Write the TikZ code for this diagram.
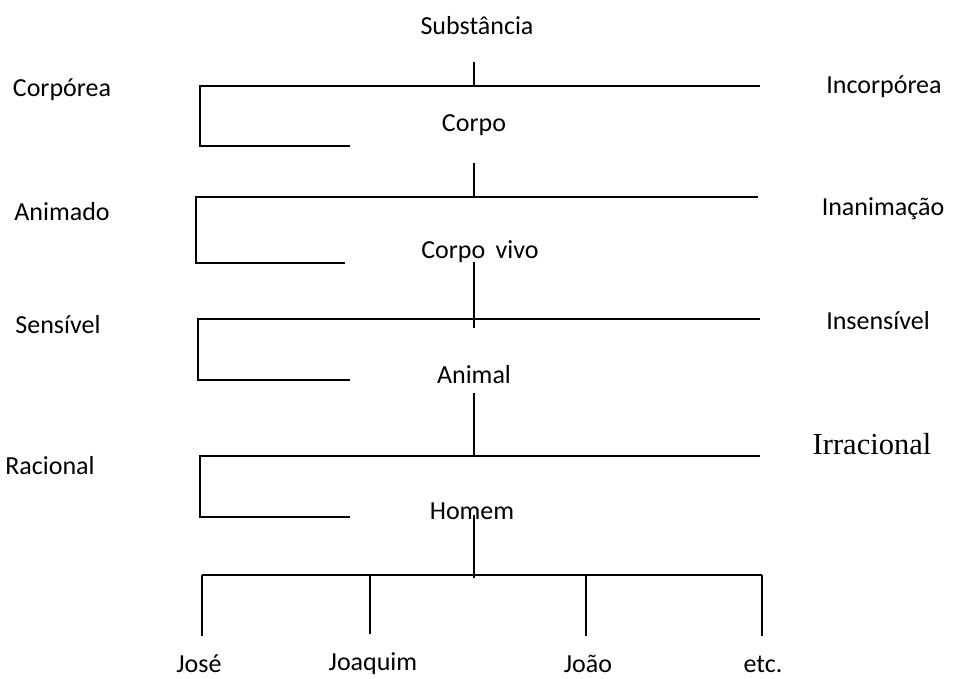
\documentclass[tikz,border=0pt]{standalone}
\usepackage{fontspec}
\setmainfont{Carlito}
\newfontfamily\timesfont{Liberation Serif}
\begin{document}
\begin{tikzpicture}[x=1pt,y=-1pt,
  lbl/.style={inner sep=0pt,anchor=base,font=\fontsize{26}{30}\selectfont},
  ln/.style={line width=1.7pt,line cap=butt}]
\useasboundingbox (0,0) rectangle (954,678);
% labels
\node[lbl] (subst) at (477,34) {Substância};
\node[lbl] (corporea) at (62,96) {Corpórea};
\node[lbl] (incorporea) at (884,93) {Incorpórea};
\node[lbl] (corpo) at (474,131) {Corpo};
\node[lbl] (animado) at (62,220) {Animado};
\node[lbl] (inanimacao) at (883,215) {Inanimação};
\node[lbl] (corpovivo) at (480,258) {Corpo\hspace{0.4em}vivo};
\node[lbl] (sensivel) at (58,333) {Sensível};
\node[lbl] (insensivel) at (878,329) {Insensível};
\node[lbl] (animal) at (474,383) {Animal};
\node[lbl] (racional) at (50,474) {Racional};
\node[lbl,font=\timesfont\fontsize{30.5}{34}\selectfont] (irracional) at (872,454) {Irracional};
\node[lbl] (homem) at (472,519) {Homem};
\node[lbl] (jose) at (199,672) {José};
\node[lbl] (joaquim) at (373,670) {Joaquim};
\node[lbl] (joao) at (588,672) {João};
\node[lbl] (etc) at (763,672) {etc.};
% level 1
\coordinate (t1a) at (474,62); \coordinate (t1b) at (474,86);
\coordinate (l1a) at (200,86); \coordinate (l1b) at (760,86);
\coordinate (l1c) at (200,146); \coordinate (l1d) at (350,146);
\draw[ln] (t1a) -- (t1b);
\draw[ln] (l1b) -- (l1a) -- (l1c) -- (l1d);
% level 2
\coordinate (t2a) at (474,163); \coordinate (t2b) at (474,197);
\coordinate (l2a) at (196,197); \coordinate (l2b) at (758,197);
\coordinate (l2c) at (196,263); \coordinate (l2d) at (345,263);
\draw[ln] (t2a) -- (t2b);
\draw[ln] (l2b) -- (l2a) -- (l2c) -- (l2d);
% level 3
\coordinate (t3a) at (474,262); \coordinate (t3b) at (474,328);
\coordinate (l3a) at (198,319); \coordinate (l3b) at (760,319);
\coordinate (l3c) at (198,380); \coordinate (l3d) at (350,380);
\draw[ln] (t3a) -- (t3b);
\draw[ln] (l3b) -- (l3a) -- (l3c) -- (l3d);
% level 4
\coordinate (t4a) at (474,393); \coordinate (t4b) at (474,456);
\coordinate (l4a) at (200,456); \coordinate (l4b) at (760,456);
\coordinate (l4c) at (200,517); \coordinate (l4d) at (350,517);
\draw[ln] (t4a) -- (t4b);
\draw[ln] (l4b) -- (l4a) -- (l4c) -- (l4d);
% level 5
\coordinate (t5a) at (474,515); \coordinate (t5b) at (474,578);
\coordinate (l5a) at (202,575); \coordinate (l5b) at (762,575);
\draw[ln] (t5a) -- (t5b);
\draw[ln] (l5a) -- (l5b);
\coordinate (d1) at (202,575); \coordinate (d1e) at (202,636);
\coordinate (d2) at (370,575); \coordinate (d2e) at (370,634);
\coordinate (d3) at (586,575); \coordinate (d3e) at (586,636);
\coordinate (d4) at (762,575); \coordinate (d4e) at (762,636);
\draw[ln] (d1) -- (d1e);
\draw[ln] (d2) -- (d2e);
\draw[ln] (d3) -- (d3e);
\draw[ln] (d4) -- (d4e);
\end{tikzpicture}
\end{document}
